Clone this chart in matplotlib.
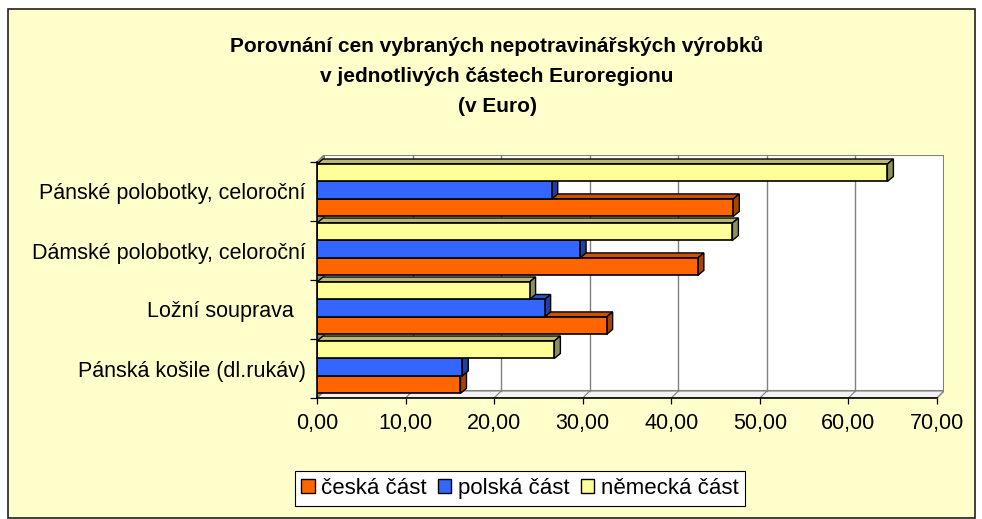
import matplotlib
matplotlib.use("Agg")
import matplotlib.pyplot as plt
from matplotlib.patches import Polygon, Rectangle, Patch
import numpy as np

plt.rcParams['font.family'] = ['Liberation Sans', 'DejaVu Sans']

# ---- data ----
categories = ["Pánská košile (dl.rukáv)", "Ložní souprava  ",
              "Dámské polobotky, celoroční", "Pánské polobotky, celoroční"]
series_names = ["česká část", "polská část", "německá část"]
ceska = [16.2, 32.7, 43.0, 47.0]
polska = [16.4, 25.7, 29.7, 26.5]
nemecka = [26.8, 24.0, 46.9, 64.4]
x_ticks = [0, 10, 20, 30, 40, 50, 60, 70]
title_lines = ["Porovnání cen vybraných nepotravinářských výrobků",
               "v jednotlivých částech Euroregionu",
               "(v Euro)"]

series_vals = [ceska, polska, nemecka]
front_cols = ["#FF6600", "#3366FF", "#FFFF99"]
top_cols = ["#CC5200", "#2952CC", "#B8B874"]
side_cols = ["#A84400", "#2040A0", "#8F8F58"]

W, H = 982, 519
fig = plt.figure(figsize=(W / 100, H / 100), dpi=100)
fig.patch.set_facecolor("white")

# chart area
fig.patches.append(Rectangle((8 / W, 1 / H), (975 - 8) / W, (509) / H,
                             transform=fig.transFigure, facecolor="#FFFFCC",
                             edgecolor="#202020", linewidth=1.2, zorder=-5))

# axes geometry (pixels)
x0_px, x70_px, back_dx = 317, 937, 7
top_px, bot_px, back_dy = 162, 398, 7
ax = fig.add_axes([x0_px / W, 1 - bot_px / H,
                   (x70_px + back_dx - x0_px) / W,
                   (bot_px - top_px + back_dy) / H])
ax.set_zorder(2)
ax.set_facecolor("none")
for s in ax.spines.values():
    s.set_visible(False)

xmax = x_ticks[-1]
ncat = len(categories)
ppu_x = (x70_px - x0_px) / xmax
ppu_y = (bot_px - top_px) / ncat
dxw = back_dx / ppu_x
dyw = back_dy / ppu_y
ax.set_xlim(0, xmax + dxw)
ax.set_ylim(0, ncat + dyw)

grid_col = "#808080"
# back wall
ax.add_patch(Polygon([(dxw, dyw), (xmax + dxw, dyw), (xmax + dxw, ncat + dyw), (dxw, ncat + dyw)],
                     closed=True, facecolor="white", edgecolor=grid_col, lw=1.5, zorder=1))
# floor
ax.add_patch(Polygon([(0, 0), (xmax, 0), (xmax + dxw, dyw), (dxw, dyw)],
                     closed=True, facecolor="#F2F2F2", edgecolor=grid_col, lw=0.8, zorder=1))
# left wall
ax.add_patch(Polygon([(0, 0), (dxw, dyw), (dxw, ncat + dyw), (0, ncat)],
                     closed=True, facecolor="#999999", edgecolor=grid_col, lw=0.8, zorder=1))
for v in x_ticks[1:]:
    ax.plot([v + dxw, v + dxw], [dyw, ncat + dyw], color=grid_col, lw=1.0, zorder=2)
    ax.plot([v, v + dxw], [0, dyw], color=grid_col, lw=0.8, zorder=2)
for c in range(ncat + 1):
    ax.plot([0, dxw], [c, c + dyw], color=grid_col, lw=0.8, zorder=2)

# bars
h = 0.296
top_gap = 0.034
dxb = 6 / ppu_x
dyb = 5 / ppu_y
for c in range(ncat):
    for s in range(3):
        v = series_vals[s][c]
        ytop = c + 1 - top_gap - (2 - s) * h
        ybot = ytop - h
        z = 10 + c * 3 + s
        ax.add_patch(Polygon([(0, ytop), (dxb, ytop + dyb), (v + dxb, ytop + dyb), (v, ytop)],
                             closed=True, facecolor=top_cols[s], edgecolor="black", lw=1.0, zorder=z))
        ax.add_patch(Polygon([(v, ybot), (v, ytop), (v + dxb, ytop + dyb), (v + dxb, ybot + dyb)],
                             closed=True, facecolor=side_cols[s], edgecolor="black", lw=1.0, zorder=z))
        ax.barh(ybot + h / 2, v, height=h, left=0, color=front_cols[s],
                edgecolor="black", linewidth=1.2, zorder=z + 0.5)

# front axes lines
ax.plot([0, 0], [0, ncat], color="black", lw=1.2, zorder=60, clip_on=False)
ax.plot([0, xmax], [0, 0], color="black", lw=1.2, zorder=60, clip_on=False)

fs = 15.5
ax.set_xticks(x_ticks)
ax.set_xticklabels([f"{v:.2f}".replace(".", ",") for v in x_ticks], fontsize=fs)
ax.tick_params(axis="x", direction="out", length=4, width=0.9, pad=7, color="black")
ax.set_yticks([c + 0.5 for c in range(ncat)])
ax.set_yticklabels(categories, fontsize=fs)
ax.set_yticks(list(range(ncat + 1)), minor=True)
ax.tick_params(axis="y", which="major", length=0, pad=8)
ax.tick_params(axis="y", which="minor", direction="out", length=5, width=0.9, color="black")

# title
title_y = [46, 76, 106]
for t, yy in zip(title_lines, title_y):
    fig.text(497 / W, 1 - yy / H, t, ha="center", va="center",
             fontsize=15, fontweight="bold")

handles = [Patch(facecolor=c, edgecolor="black", linewidth=1.0) for c in front_cols]
leg = fig.legend(handles, series_names, loc="center", ncol=3,
                 bbox_to_anchor=(520 / W, 1 - 488.5 / H), fontsize=16,
                 frameon=True, fancybox=False, handlelength=0.6, handleheight=0.6,
                 handletextpad=0.3, columnspacing=0.5, borderpad=0.3)
leg.get_frame().set_edgecolor("black")
leg.get_frame().set_facecolor("white")
leg.get_frame().set_linewidth(0.8)
leg.get_frame().set_alpha(1)

fig.savefig("out.png", dpi=100)
